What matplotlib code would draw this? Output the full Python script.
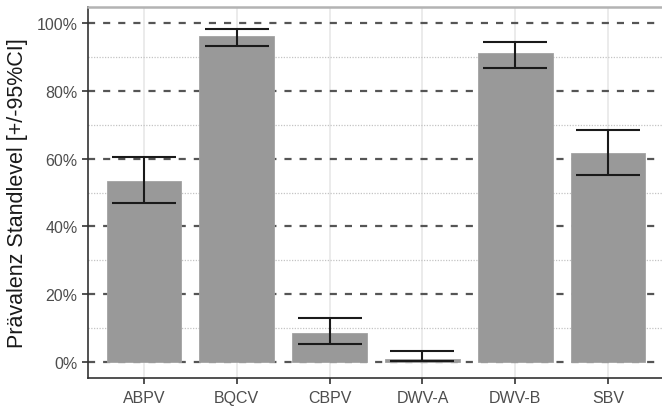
import matplotlib
matplotlib.use("Agg")
import matplotlib.pyplot as plt
import numpy as np

categories = ["ABPV", "BQCV", "CBPV", "DWV-A", "DWV-B", "SBV"]
prevalence = [53.5, 96.2, 8.5, 0.9, 91.2, 61.8]
ci_low = [47.0, 93.2, 5.3, 0.1, 86.8, 55.3]
ci_high = [60.5, 98.2, 13.0, 3.2, 94.6, 68.6]
yticks = [0, 20, 40, 60, 80, 100]
ytick_labels = ["0%", "20%", "40%", "60%", "80%", "100%"]
minor_ticks = [10, 30, 50, 70, 90]

plt.rcParams['font.family'] = ['Liberation Sans', 'DejaVu Sans']

fig = plt.figure(figsize=(6.62, 4.10), dpi=100)
W, H = 662, 410
left, right, top, bottom = 88, 664, 8, 379
ax = fig.add_axes([left / W, 1 - bottom / H, (right - left) / W, (bottom - top) / H])

x = np.arange(len(categories))

# vertical grid lines
for xi in x:
    ax.axvline(xi, color="#EBEBEB", lw=1.4, zorder=0)
# minor dotted lines
for m in minor_ticks:
    ax.axhline(m, color="#C4C4C4", lw=0.9, ls=(0, (1, 1.2)), zorder=0.5)
# major dashed lines
for t in yticks:
    ax.axhline(t, color="#555555", lw=1.6, ls=(0, (3.2, 3.6)), zorder=0.6)

ax.bar(x, prevalence, width=0.8, color="#999999", edgecolor="#A3A3A3", lw=0.6, zorder=1)

err_low = np.array(prevalence) - np.array(ci_low)
err_high = np.array(ci_high) - np.array(prevalence)
ax.errorbar(x, prevalence, yerr=[err_low, err_high], fmt="none", ecolor="#1A1A1A",
            elinewidth=1.5, capsize=23, capthick=1.5, zorder=2)

ax.set_xlim(-0.6, 5.6)
ax.set_ylim(-4.8, 104.8)
ax.set_xticks(x)
ax.set_xticklabels(categories)
ax.set_yticks(yticks)
ax.set_yticklabels(ytick_labels)

ax.tick_params(axis="both", colors="#333333", labelcolor="#4D4D4D", labelsize=11.5,
               length=4.5, width=1.2)
ax.tick_params(axis="x", pad=4)
ax.tick_params(axis="y", pad=3)

ax.set_ylabel("Prävalenz Standlevel [+/-95%CI]", fontsize=15.5, color="#1A1A1A", labelpad=6)

ax.spines["top"].set_color("#B3B3B3")
ax.spines["top"].set_linewidth(1.8)
ax.spines["right"].set_visible(False)
for s in ["left", "bottom"]:
    ax.spines[s].set_color("#333333")
    ax.spines[s].set_linewidth(1.2)

fig.savefig("out.png", dpi=100)
